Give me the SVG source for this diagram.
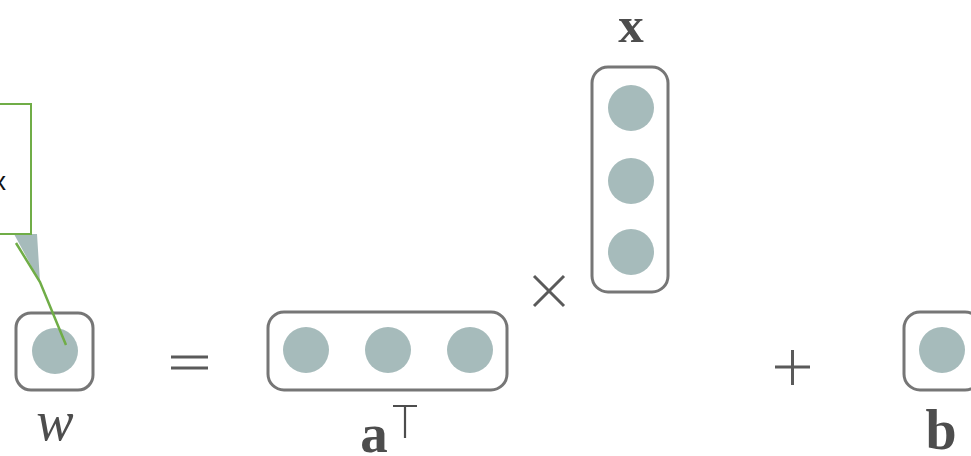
<svg xmlns="http://www.w3.org/2000/svg" width="971" height="456" viewBox="0 0 971 456">
<style>
.box{fill:#fff;stroke:#767676;stroke-width:3}
.dot{fill:#a6bbbb}
.lbl{font-family:"Liberation Serif",serif;fill:#4d4d4d}
.op{stroke:#5a5a5a;stroke-width:3;fill:none}
</style>
<rect width="971" height="456" fill="#fff"/>
<g id="callout">
<polygon points="14,234 37,234 40,282" fill="#a6bbbb"/>
<rect x="-10" y="104" width="41" height="130" fill="#fff" stroke="#70ad47" stroke-width="2"/>
<text x="-7" y="190" font-family="Liberation Sans,sans-serif" font-size="26" fill="#111">x</text>
</g>
<g id="node-w">
<rect class="box" x="16" y="313" width="77" height="77" rx="15"/>
<circle class="dot" cx="55" cy="351" r="23"/>
<text class="lbl" x="55" y="440" font-size="56" font-style="italic" text-anchor="middle">w</text>
</g>
<g id="connectors">
<polyline points="16,243 40,282 66,345" fill="none" stroke="#70ad47" stroke-width="2.5"/>
</g>
<g id="op-eq">
<line class="op" x1="171" y1="357" x2="208" y2="357"/>
<line class="op" x1="171" y1="368" x2="208" y2="368"/>
</g>
<g id="node-aT">
<rect class="box" x="268" y="312" width="239" height="78" rx="16"/>
<circle class="dot" cx="306" cy="350" r="23"/>
<circle class="dot" cx="388" cy="350" r="23"/>
<circle class="dot" cx="470" cy="350" r="23"/>
<text class="lbl" x="374" y="452" font-size="55" font-weight="bold" text-anchor="middle">a</text>
<path d="M393 406 H417 M405 406 V438" stroke="#4d4d4d" stroke-width="2.2" fill="none"/>
</g>
<g id="op-times">
<line class="op" x1="534" y1="276" x2="564" y2="306"/>
<line class="op" x1="564" y1="276" x2="534" y2="306"/>
</g>
<g id="node-x">
<rect class="box" x="592" y="67" width="76" height="225" rx="16"/>
<circle class="dot" cx="631" cy="108" r="23"/>
<circle class="dot" cx="631" cy="181" r="23"/>
<circle class="dot" cx="631" cy="252" r="23"/>
<text class="lbl" x="631" y="42" font-size="51" font-weight="bold" text-anchor="middle">x</text>
</g>
<g id="op-plus">
<line class="op" x1="775" y1="367" x2="810" y2="367"/>
<line class="op" x1="792.5" y1="350" x2="792.5" y2="385"/>
</g>
<g id="node-b">
<rect class="box" x="904" y="312" width="77" height="78" rx="16"/>
<circle class="dot" cx="942" cy="350" r="23"/>
<text class="lbl" x="941" y="449" font-size="56" font-weight="bold" text-anchor="middle">b</text>
</g>
</svg>
